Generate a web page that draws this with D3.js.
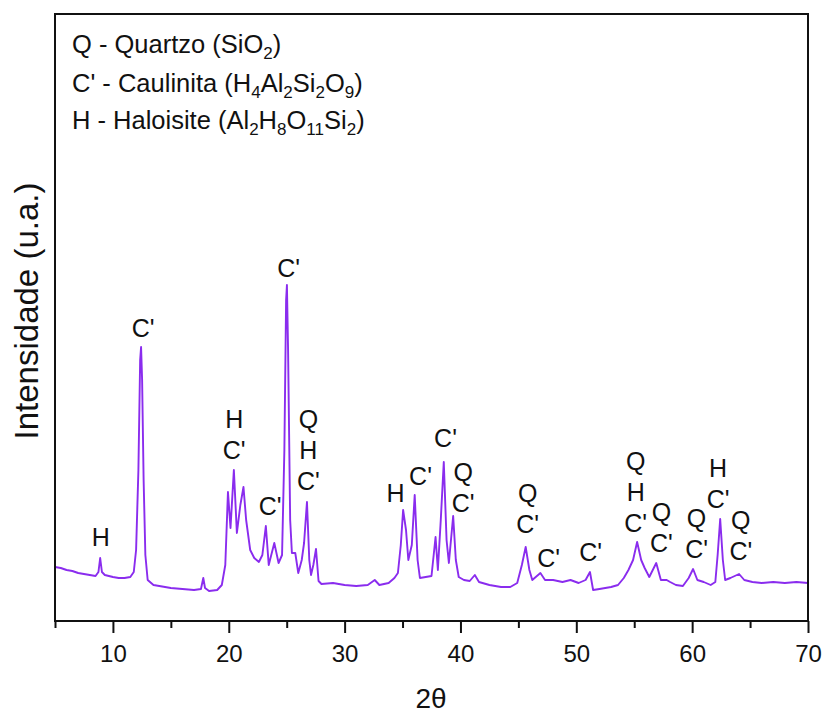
<!DOCTYPE html>
<html>
<head>
<meta charset="utf-8">
<script src="https://cdn.jsdelivr.net/npm/d3@7"></script>
<style>
  body { margin: 0; background: #fff; }
  text { font-family: "Liberation Sans", Arial, sans-serif; fill: #111; }
</style>
</head>
<body>
<div id="chart"></div>
<script>
// XRD pattern, 2theta (deg) vs intensity (arbitrary units)
const twoTheta = [
  5.0, 5.5, 6.0, 6.5, 7.0, 7.5, 8.0, 8.5, 8.75, 8.9, 9.05, 9.3, 10.0, 10.5, 11.0, 11.5, 11.8,
  12.0, 12.2, 12.35, 12.43, 12.52, 12.65, 12.8, 13.0, 13.5, 14.0, 15.0, 16.0, 17.0, 17.6, 17.8,
  17.95, 18.3, 19.0, 19.4, 19.7, 19.93, 20.15, 20.44, 20.7, 21.0, 21.27, 21.5, 21.85, 22.2,
  22.6, 22.9, 23.2, 23.45, 23.93, 24.3, 24.6, 24.8, 24.95, 25.02, 25.12, 25.3, 25.45, 25.74,
  26.0, 26.3, 26.5, 26.75, 26.95, 27.1, 27.3, 27.53, 27.75, 28.0, 29.0, 30.0, 31.0, 32.0,
  32.6, 33.0, 33.8, 34.3, 34.6, 34.85, 35.05, 35.3, 35.5, 35.8, 36.05, 36.3, 36.5, 37.0,
  37.5, 37.85, 38.05, 38.3, 38.56, 38.8, 39.0, 39.37, 39.6, 39.85, 40.3, 40.8, 41.24, 41.6,
  42.5, 43.5, 44.3, 44.9, 45.3, 45.63, 45.95, 46.2, 46.9, 47.3, 48.0, 48.8, 49.5, 50.2,
  50.8, 51.18, 51.45, 52.0, 53.0, 53.6, 54.1, 54.5, 54.9, 55.25, 55.6, 55.9, 56.3, 56.9,
  57.3, 57.8, 58.1, 58.6, 59.2, 59.7, 60.08, 60.45, 61.0, 61.6, 62.0, 62.2, 62.42, 62.65,
  62.85, 63.3, 64.05, 64.5, 65.2, 66.0, 67.0, 68.0, 69.0, 70.0
];
const intensity = [
  216, 212, 204, 200, 192, 188, 184, 180, 196, 252, 196, 184, 176, 172, 172, 176, 196,
  284, 604, 1044, 1096, 964, 564, 264, 164, 144, 140, 132, 128, 124, 128, 172,
  132, 120, 124, 144, 224, 516, 372, 604, 352, 464, 536, 404, 284, 252,
  236, 264, 380, 224, 312, 232, 264, 684, 1284, 1344, 1084, 404, 272, 272,
  192, 244, 312, 476, 244, 184, 224, 288, 160, 148, 152, 144, 140, 144,
  164, 144, 152, 172, 192, 304, 444, 364, 244, 304, 504, 244, 172, 176,
  180, 336, 204, 404, 636, 324, 232, 420, 244, 176, 164, 160, 184, 156,
  144, 136, 136, 152, 224, 296, 204, 164, 192, 164, 164, 156, 164, 152,
  164, 196, 124, 128, 136, 144, 172, 204, 244, 316, 244, 212, 176, 232,
  164, 164, 156, 144, 140, 172, 208, 164, 156, 144, 156, 264, 408, 244,
  164, 172, 188, 164, 156, 152, 156, 152, 156, 152
];

// peak annotations: 2theta, intensity of the lowest line's baseline, stacked lines
const peakX = [8.95, 12.6, 20.47, 23.58, 25.16, 26.87, 34.39, 36.55, 38.71, 40.24, 45.8, 47.61, 51.24, 55.13, 57.35, 60.38, 62.24, 64.2];
const peakY = [300, 1136, 648, 424, 1376, 524, 477, 544, 697, 437, 352, 216, 240, 357, 277, 252, 452, 244];
const peakText = [
  ["H"], ["C'"], ["H", "C'"], ["C'"], ["C'"], ["Q", "H", "C'"], ["H"], ["C'"], ["C'"],
  ["Q", "C'"], ["Q", "C'"], ["C'"], ["C'"], ["Q", "H", "C'"], ["Q", "C'"], ["Q", "C'"],
  ["H", "C'"], ["Q", "C'"]
];

const majorTicks = [10, 20, 30, 40, 50, 60, 70];
const minorTicks = [5, 15, 25, 35, 45, 55, 65];

// legend: [text, subscript] pieces
const legendRows = [
  [["Q - Quartzo (SiO", ""], ["2", "sub"], [")", ""]],
  [["C' - Caulinita (H", ""], ["4", "sub"], ["Al", ""], ["2", "sub"], ["Si", ""], ["2", "sub"], ["O", ""], ["9", "sub"], [")", ""]],
  [["H - Haloisite (Al", ""], ["2", "sub"], ["H", ""], ["8", "sub"], ["O", ""], ["11", "sub"], ["Si", ""], ["2", "sub"], [")", ""]]
];

const width = 824, height = 715;
const margin = {top: 14, right: 16, bottom: 94, left: 55};
const lineColor = "#8a2cee";

const svg = d3.select("#chart").append("svg")
    .attr("width", width)
    .attr("height", height);

const x = d3.scaleLinear().domain([5, 70]).range([margin.left, width - margin.right]);
const y = d3.scaleLinear().domain([0, 2428]).range([height - margin.bottom, margin.top]);

const data = twoTheta.map((t, i) => [t, intensity[i]]);

// pattern line
svg.append("path")
    .datum(data)
    .attr("fill", "none")
    .attr("stroke", lineColor)
    .attr("stroke-width", 1.9)
    .attr("stroke-linejoin", "round")
    .attr("d", d3.line().x(d => x(d[0])).y(d => y(d[1])));

// x axis, major and minor ticks
const xMajor = d3.axisBottom(x).tickValues(majorTicks).tickSize(12).tickPadding(12).tickFormat(d3.format("d"));
const xMinor = d3.axisBottom(x).tickValues(minorTicks).tickSize(7).tickFormat("");

const gx = svg.append("g")
    .attr("transform", "translate(0," + (height - margin.bottom) + ")")
    .call(xMajor);
gx.selectAll("text").style("font-size", "24px").attr("fill", "#111");
gx.selectAll("line").attr("stroke", "#111").attr("stroke-width", 2);
gx.select(".domain").remove();

const gxm = svg.append("g")
    .attr("transform", "translate(0," + (height - margin.bottom) + ")")
    .call(xMinor);
gxm.selectAll("line").attr("stroke", "#111").attr("stroke-width", 2);
gxm.select(".domain").remove();

// frame
svg.append("rect")
    .attr("x", x(5))
    .attr("y", y(2428))
    .attr("width", x(70) - x(5))
    .attr("height", y(0) - y(2428))
    .attr("fill", "none")
    .attr("stroke", "#111")
    .attr("stroke-width", 2);

// peak labels
const lineGap = 31;
peakText.forEach((lines, i) => {
    const n = lines.length;
    lines.forEach((s, j) => {
        svg.append("text")
            .attr("x", x(peakX[i]))
            .attr("y", y(peakY[i]) - (n - 1 - j) * lineGap)
            .attr("text-anchor", "middle")
            .style("font-size", "25px")
            .text(s);
    });
});

// legend
const legendBase = [53, 92, 129];
legendRows.forEach((row, i) => {
    const t = svg.append("text")
        .attr("x", 72)
        .attr("y", legendBase[i])
        .style("font-size", "25.5px");
    let down = false;
    row.forEach(p => {
        const ts = t.append("tspan").text(p[0]);
        if (p[1] === "sub") {
            ts.style("font-size", "17px").attr("dy", down ? 0 : 6);
            down = true;
        } else if (down) {
            ts.attr("dy", -6);
            down = false;
        }
    });
});

// axis titles
svg.append("text")
    .attr("transform", "translate(38," + 311 + ") rotate(-90)")
    .attr("text-anchor", "middle")
    .style("font-size", "33px")
    .text("Intensidade (u.a.)");

svg.append("text")
    .attr("x", 431)
    .attr("y", 708)
    .attr("text-anchor", "middle")
    .style("font-size", "28px")
    .text("2θ");
</script>
</body>
</html>
